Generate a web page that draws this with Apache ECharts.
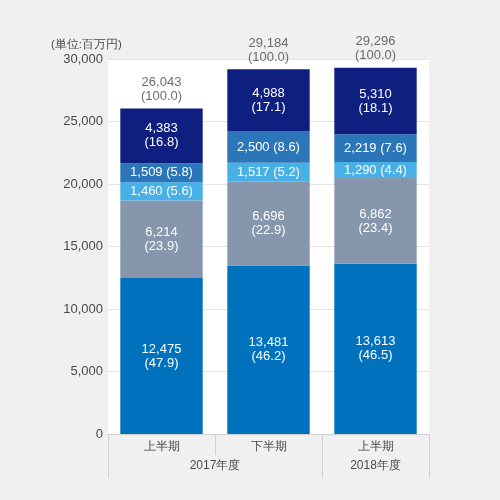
<!DOCTYPE html>
<html>
<head>
<meta charset="utf-8">
<script src="https://cdn.jsdelivr.net/npm/echarts@6/dist/echarts.min.js"></script>
<style>
  html, body { margin: 0; padding: 0; background: #f0f0f0; }
  #chart { width: 500px; height: 500px; }
</style>
</head>
<body>
<div id="chart"></div>
<script>
// 半期ごとの売上構成 (単位:百万円)

var halves = ['上半期', '下半期', '上半期'];
var years = ['2017年度', '2018年度'];
var yearCenters = [1, 2.5];
var yearBounds = [0, 2, 3];

var seg1 = [12475, 13481, 13613];
var seg2 = [6214, 6696, 6862];
var seg3 = [1460, 1517, 1290];
var seg4 = [1509, 2500, 2219];
var seg5 = [4383, 4988, 5310];

var share1 = [47.9, 46.2, 46.5];
var share2 = [23.9, 22.9, 23.4];
var share3 = [5.6, 5.2, 4.4];
var share4 = [5.8, 8.6, 7.6];
var share5 = [16.8, 17.1, 18.1];

var totals = [26043, 29184, 29296];

var colors = ['#0071bc', '#8696ad', '#47b0e6', '#2b76b8', '#0f1f80'];
var textColor = '#4a4a4a';

function fmt(v) {
    return v.toString().replace(/\B(?=(\d{3})+(?!\d))/g, ',');
}

function segment(name, vals, shares, color, oneLine) {
    return {
        name: name,
        type: 'bar',
        stack: 'total',
        barWidth: '77%',
        data: vals,
        itemStyle: { color: color },
        label: {
            show: true,
            position: 'inside',
            color: '#fff',
            fontSize: 13,
            fontFamily: 'Arial',
            lineHeight: 14,
            formatter: function (p) {
                var s = fmt(vals[p.dataIndex]);
                var pct = '(' + shares[p.dataIndex].toFixed(1) + ')';
                return oneLine ? s + ' ' + pct : s + '\n' + pct;
            }
        }
    };
}

var chart = echarts.init(document.getElementById('chart'));

var option = {
    backgroundColor: '#f0f0f0',
    animation: false,
    title: {
        text: '(単位:百万円)',
        left: 46,
        top: 34,
        textStyle: { fontSize: 11.5, fontWeight: 'normal', color: textColor, fontFamily: 'Arial' }
    },
    grid: {
        left: 108,
        right: 71,
        top: 59,
        bottom: 66,
        show: true,
        backgroundColor: '#fff',
        borderWidth: 0
    },
    xAxis: [
        {
            type: 'category',
            data: halves,
            axisLine: { show: true, lineStyle: { color: '#d0d0d0' } },
            axisTick: { show: true, length: 21, lineStyle: { color: '#d0d0d0' } },
            axisLabel: { color: textColor, fontSize: 12, margin: 7, fontFamily: 'Arial' }
        },
        {
            type: 'value',
            position: 'bottom',
            min: 0,
            max: 3,
            axisLine: { show: false },
            splitLine: { show: false },
            axisTick: {
                show: true,
                length: 44,
                customValues: yearBounds,
                lineStyle: { color: '#d0d0d0' }
            },
            axisLabel: {
                show: true,
                customValues: yearCenters,
                color: textColor,
                fontSize: 12,
                margin: 26,
                fontFamily: 'Arial',
                formatter: function (v) {
                    return years[yearCenters.indexOf(v)];
                }
            }
        }
    ],
    yAxis: {
        type: 'value',
        min: 0,
        max: 30000,
        interval: 5000,
        axisLine: { show: false },
        axisTick: { show: false },
        splitLine: { lineStyle: { color: '#e4e4e4' } },
        axisLabel: {
            color: textColor,
            fontSize: 13,
            margin: 5,
            fontFamily: 'Arial',
            formatter: function (v) { return fmt(v); }
        }
    },
    series: [
        segment('s1', seg1, share1, colors[0], false),
        segment('s2', seg2, share2, colors[1], false),
        segment('s3', seg3, share3, colors[2], true),
        segment('s4', seg4, share4, colors[3], true),
        segment('s5', seg5, share5, colors[4], false),
        {
            name: 'total',
            type: 'scatter',
            data: totals,
            symbolSize: 0,
            silent: true,
            label: {
                show: true,
                position: 'top',
                distance: 5,
                color: textColor,
                fontSize: 13,
                fontFamily: 'Arial',
                lineHeight: 14,
                formatter: function (p) {
                    return fmt(totals[p.dataIndex]) + '\n(100.0)';
                }
            }
        }
    ]
};

option && chart.setOption(option);
</script>
</body>
</html>
